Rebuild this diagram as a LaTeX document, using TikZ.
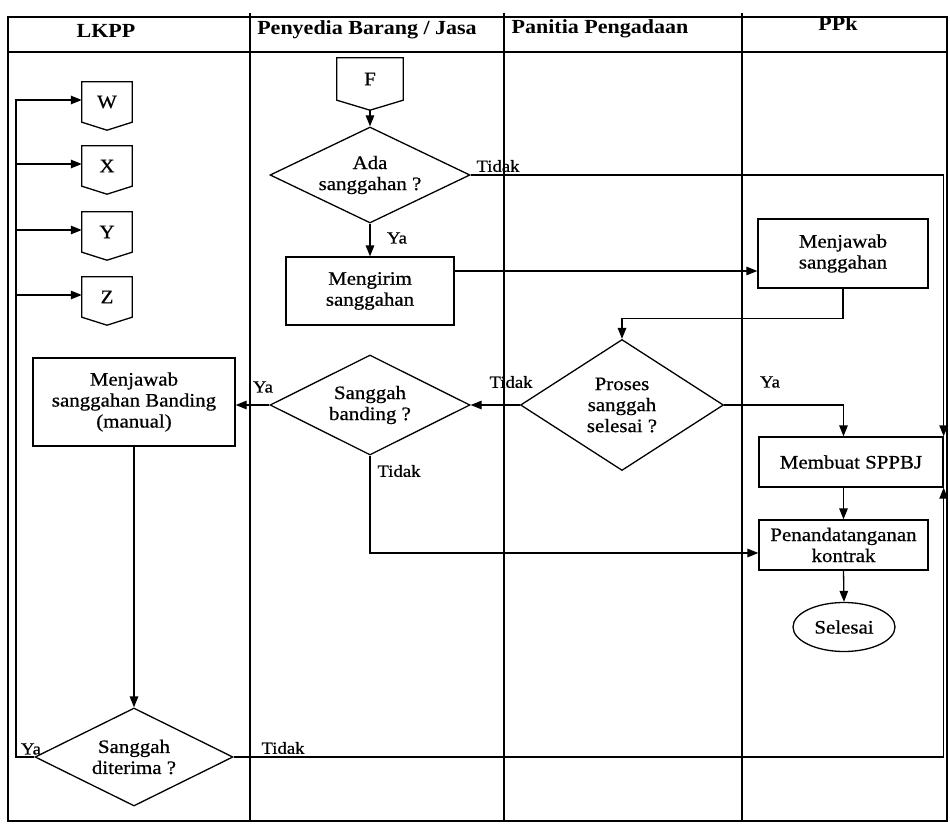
\documentclass[tikz,border=0pt]{standalone}
\usepackage{fontspec}
\setmainfont{Liberation Serif}[FakeStretch=1.1, UprightFeatures={FakeBold=0.7}]
\usetikzlibrary{shapes.geometric,arrows.meta,calc}
\begin{document}
\begin{tikzpicture}[x=1pt,y=-1pt,
  every node/.style={font=\fontsize{19}{21}\selectfont},
  ln/.style={line width=1.3pt},
  arr/.style={line width=1.3pt,-{Triangle[length=11pt,width=8.5pt]}},
  proc/.style={draw,line width=1.3pt,rectangle,align=center,inner sep=0pt},
  dec/.style={draw,line width=1.3pt,diamond,shape aspect=2,align=center,inner sep=0pt},
  conn/.style={rectangle,minimum width=50pt,minimum height=40pt,inner sep=0pt},
  lbl/.style={font=\fontsize{17}{18}\selectfont,inner sep=0pt},
  hdr/.style={font=\fontsize{20}{24}\selectfont\bfseries,inner sep=0pt}]
\useasboundingbox (0,0) rectangle (950,824);
% frame and lanes
\draw[line width=1.3pt] (8,17) rectangle (947,821);
\draw[line width=1.3pt] (8,52) -- (947,52);
\draw[line width=1.3pt] (250,13) -- (250,821);
\draw[line width=1.3pt] (504,13) -- (504,821);
\draw[line width=1.3pt] (742,13) -- (742,821);
\node[hdr] (h1) at (106,31) {LKPP};
\node[hdr] (h2) at (367,30) {Penyedia Barang / Jasa};
\node[hdr] (h3) at (600,29) {Panitia Pengadaan};
\node[hdr] (h4) at (838,24) {PPk};
% off-page connectors
\foreach \n/\t/\yy in {W/W/102,X/X/166,Y/Y/232,Z/Z/297}{
  \node[conn] (\n) at (107,\yy) {\t};
  \draw[ln] (\n.north west) -- (\n.north east) -- (\n.south east) -- ([yshift=-8pt]\n.south) -- (\n.south west) -- cycle;
}
\node[conn,minimum width=66pt,minimum height=42pt] (F) at (370,79) {F};
\draw[ln] (F.north west) -- (F.north east) -- (F.south east) -- ([yshift=-10pt]F.south) -- (F.south west) -- cycle;
% process nodes
\node[dec,minimum width=200pt,minimum height=96pt] (ada) at (370,175) {Ada\\sanggahan ?};
\node[proc,minimum width=168pt,minimum height=68pt] (kirim) at (370,291) {Mengirim\\sanggahan};
\node[proc,minimum width=170pt,minimum height=69pt] (jawab) at (843,253.5) {Menjawab\\sanggahan};
\node[dec,minimum width=203pt,minimum height=131pt] (proses) at (622,405) {Proses\\sanggah\\selesai ?};
\node[dec,minimum width=200pt,minimum height=100pt] (banding) at (370,405) {Sanggah\\banding ?};
\node[proc,minimum width=202pt,minimum height=88pt] (jsb) at (134,402) {Menjawab\\sanggahan Banding\\(manual)};
\node[proc,minimum width=184pt,minimum height=50pt] (sppbj) at (851,462) {Membuat SPPBJ};
\node[proc,minimum width=169pt,minimum height=50pt] (kontrak) at (843.5,545) {Penandatanganan\\kontrak};
\node[draw,line width=1.3pt,ellipse,minimum width=102pt,minimum height=49pt,inner sep=0pt] (selesai) at (844,627) {Selesai};
\node[dec,minimum width=198pt,minimum height=98pt] (terima) at (134,757) {Sanggah\\diterima ?};
\coordinate (yl) at (16,0);
% connectors
\draw[arr] ([yshift=-10pt]F.south) -- (ada.north);
\draw[arr] (ada.south) -- (kirim.north);
\draw[arr] (ada.east) -- (ada.east -| sppbj.north east) -- (sppbj.north east);
\draw[arr] ([yshift=20pt]kirim.east) -- ([yshift=20pt]kirim.east -| jawab.west);
\draw[arr] (jawab.south) -- ([yshift=-30pt]jawab.south) -| (proses.north);
\draw[arr] (proses.east) -| (kontrak.north |- sppbj.north);
\draw[arr] (proses.west) -- (banding.east);
\draw[arr] (banding.west) -- (banding.west -| jsb.east);
\draw[arr] (banding.south) |- ([yshift=-8pt]kontrak.west);
\draw[arr] (sppbj.south -| kontrak.north) -- (kontrak.north);
\draw[arr] (kontrak.south) -- (selesai.north);
\draw[arr] (jsb.south) -- (terima.north);
\draw[arr] (terima.east) -| (sppbj.south east);
\draw[arr] (terima.west) -- (terima.west -| yl) |- ([yshift=2pt]W.west);
\foreach \n in {X,Y,Z}{ \draw[arr] ([yshift=2pt]\n.west -| yl) -- ([yshift=2pt]\n.west); }
% labels
\node[lbl] (l1) at (498,166) {Tidak};
\node[lbl] (l2) at (397,238) {Ya};
\node[lbl] (l3) at (770,382) {Ya};
\node[lbl] (l4) at (511,382) {Tidak};
\node[lbl] (l5) at (263,387) {Ya};
\node[lbl] (l6) at (399,471) {Tidak};
\node[lbl] (l7) at (283,748) {Tidak};
\node[lbl] (l8) at (31,749) {Ya};
\end{tikzpicture}
\end{document}
